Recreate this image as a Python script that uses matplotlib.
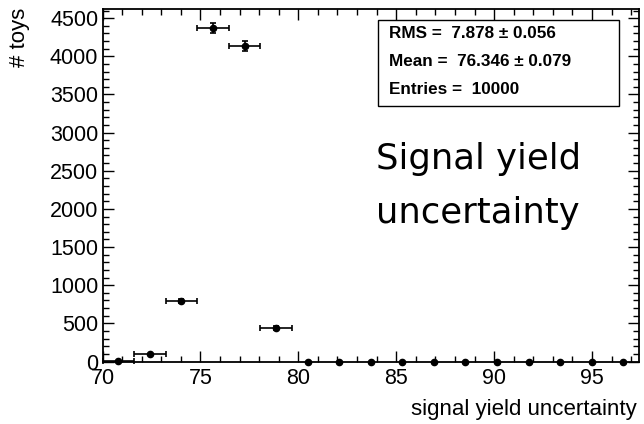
import numpy as np
import matplotlib
matplotlib.use("Agg")
import matplotlib.pyplot as plt
from matplotlib.ticker import MultipleLocator

# Data
bin_lo = 70.0
bin_hi = 97.4
n_bins = 17
counts = [5, 95, 790, 4365, 4140, 440, 0, 0, 0, 0, 0, 0, 0, 0, 0, 0, 0]
x_ticks = [70, 75, 80, 85, 90, 95]
y_ticks = [0, 500, 1000, 1500, 2000, 2500, 3000, 3500, 4000, 4500]
stats_lines = ["RMS =  7.878 \u00b1 0.056", "Mean =  76.346 \u00b1 0.079", "Entries =  10000"]
x_label = "signal yield uncertainty"
y_label = "# toys"
annotation_lines = ["Signal yield", "uncertainty"]

edges = np.linspace(bin_lo, bin_hi, n_bins + 1)
centers = 0.5 * (edges[:-1] + edges[1:])
halfw = 0.5 * (edges[1] - edges[0])
counts = np.array(counts, dtype=float)
yerr = np.sqrt(counts)

fig = plt.figure(figsize=(6.44, 4.24), dpi=100)
ax = fig.add_axes([102.5 / 644, 1 - 361.5 / 424, (639 - 102.5) / 644, (361.5 - 9) / 424])

xerr = np.where(counts > 0, halfw, 0.0)
ax.errorbar(centers, counts, xerr=xerr, yerr=yerr, fmt='o', color='black',
            ms=4.5, elinewidth=1.2, capsize=2.5, capthick=1.2, clip_on=False, zorder=5)

ax.set_xlim(bin_lo, bin_hi)
ax.set_ylim(0, 4620)
ax.set_xticks(x_ticks)
ax.set_yticks(y_ticks)
ax.xaxis.set_minor_locator(MultipleLocator(1))
ax.yaxis.set_minor_locator(MultipleLocator(100))
ax.tick_params(which='both', direction='in', top=True, right=True, width=1.0,
               labelsize=15.5, colors='black')
ax.tick_params(which='major', length=8)
ax.tick_params(which='minor', length=4)
ax.tick_params(axis='x', pad=5)
ax.tick_params(axis='y', pad=3)
for lbl in ax.get_xticklabels() + ax.get_yticklabels():
    lbl.set_fontfamily('Liberation Sans')
for s in ax.spines.values():
    s.set_linewidth(1.3)

fig.text(637 / 644, 1 - 410 / 424, x_label, ha='right', va='center',
         fontsize=16, family='Liberation Sans')
fig.text(20 / 644, 1 - 8 / 424, y_label, ha='center', va='top', rotation=90,
         fontsize=16, family='Liberation Sans')

# stats box
bx0, by0, bx1, by1 = 378, 20, 619, 106
rect = plt.Rectangle((bx0 / 644, 1 - by1 / 424), (bx1 - bx0) / 644, (by1 - by0) / 424,
                     transform=fig.transFigure, fill=True, facecolor='white',
                     edgecolor='black', lw=1.0, zorder=10)
fig.add_artist(rect)
for i, line in enumerate(stats_lines):
    fig.text(389 / 644, 1 - (33 + i * 28.5) / 424, line, ha='left', va='center',
             fontsize=12.3, fontweight='bold', family='Liberation Sans', zorder=11)

for i, line in enumerate(annotation_lines):
    fig.text(376 / 644, 1 - (169 + i * 54) / 424, line, ha='left', va='baseline',
             fontsize=25.5, family='DejaVu Sans')

fig.savefig("out.png", dpi=100)
